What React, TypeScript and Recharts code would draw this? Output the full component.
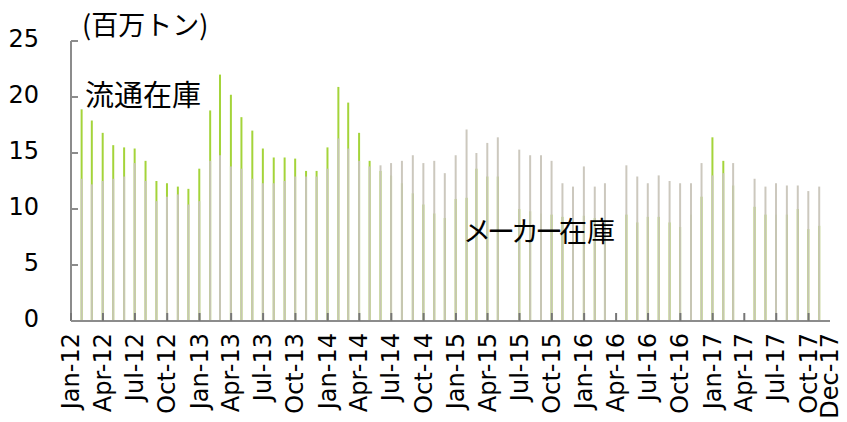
import React from "react";
import { BarChart, Bar, XAxis, YAxis } from "recharts";

// 月末在庫（百万トン）2012年1月〜2017年12月
const YEARS = [2012, 2013, 2014, 2015, 2016, 2017];
const MONTHS = ["Jan", "Feb", "Mar", "Apr", "May", "Jun", "Jul", "Aug", "Sep", "Oct", "Nov", "Dec"];

// 流通在庫
const RYUTSU: (number | null)[] = [
  18.9, 17.9, 16.8, 15.7, 15.5, 15.4, 14.3, 12.5, 12.3, 12.0, 11.8, 13.6,
  18.8, 22.0, 20.2, 18.2, 17.0, 15.4, 14.6, 14.6, 14.5, 13.4, 13.4, 15.5,
  20.9, 19.5, 16.8, 14.3, 13.4, 13.0, 12.3, 11.4, 10.4, 9.6, 9.2, 10.9,
  11.0, 13.6, 12.9, 12.9, null, 10.0, 9.8, 9.6, 9.5, 9.3, 9.0, 9.4,
  9.2, 9.0, null, 9.5, 8.8, 9.3, 9.3, 8.8, 8.4, 9.5, 11.1, 16.4,
  14.3, 12.1, null, 10.2, 9.5, 9.5, 9.5, 10.0, 8.2, 8.5, null, null,
];

// メーカー在庫
const MAKER: (number | null)[] = [
  12.7, 12.2, 12.5, 12.7, 12.9, 14.1, 12.5, 10.7, 11.1, 11.3, 10.4, 10.7,
  14.3, 14.8, 13.8, 13.6, 12.7, 12.3, 12.3, 12.5, 12.9, 12.9, 12.9, 13.6,
  16.3, 15.4, 14.3, 13.8, 13.9, 14.1, 14.3, 14.8, 14.1, 14.3, 13.2, 14.8,
  17.1, 15.0, 15.9, 16.4, null, 15.3, 14.8, 14.8, 14.3, 12.3, 12.0, 13.8,
  12.0, 12.3, null, 13.9, 12.9, 12.3, 13.0, 12.5, 12.3, 12.3, 14.1, 13.0,
  13.2, 14.1, null, 12.7, 12.0, 12.3, 12.1, 12.1, 11.6, 12.0, null, null,
];

const X_TICKS = [
  "Jan-12", "Apr-12", "Jul-12", "Oct-12",
  "Jan-13", "Apr-13", "Jul-13", "Oct-13",
  "Jan-14", "Apr-14", "Jul-14", "Oct-14",
  "Jan-15", "Apr-15", "Jul-15", "Oct-15",
  "Jan-16", "Apr-16", "Jul-16", "Oct-16",
  "Jan-17", "Apr-17", "Jul-17", "Oct-17", "Dec-17",
];
const Y_TICKS = [0, 5, 10, 15, 20, 25];

const GREEN = "#a4d43a";
const GRAY = "#c9c5ba";
const AXIS = "#8c8c8c";
const LATIN = "'DejaVu Sans', Verdana, sans-serif";
const CJK = "'Noto Sans CJK JP', sans-serif";

// date axis in days from 2012-01-01
const ORIGIN = Date.UTC(2012, 0, 1);
const toDay = (y: number, m: number, d: number) => (Date.UTC(y, m, d) - ORIGIN) / 86400000;
const labelToDay = (s: string) => {
  const [mon, yy] = s.split("-");
  return toDay(2000 + Number(yy), MONTHS.indexOf(mon), 1);
};

const tickDays = X_TICKS.map(labelToDay);
const dayToLabel: Record<number, string> = {};
X_TICKS.forEach((s, i) => (dayToLabel[tickDays[i]] = s));

// each value sits on the last day of its month
const data = RYUTSU.map((v, i) => ({
  date: toDay(YEARS[Math.floor(i / 12)], (i % 12) + 1, 0),
  ryutsu: v,
  maker: MAKER[i],
})).filter((d) => d.ryutsu != null || d.maker != null);

const XTick = (props: any) => {
  const { x, y, payload, index } = props;
  const last = index === X_TICKS.length - 1;
  return (
    <g>
      {!last && <line x1={x} x2={x} y1={y - 8} y2={y} stroke="#767676" strokeWidth={2} />}
      <text
        x={x}
        y={y}
        dx={-12}
        transform={`rotate(-90 ${x} ${y})`}
        textAnchor="end"
        dominantBaseline="central"
        fontSize={24}
        fontFamily={LATIN}
        fill="#000"
      >
        {dayToLabel[payload.value]}
      </text>
    </g>
  );
};

const YTick = (props: any) => {
  const { x, y, payload } = props;
  return (
    <g>
      <line x1={x} x2={x + 7} y1={y} y2={y} stroke={AXIS} strokeWidth={2} />
      <text
        x={x - 32}
        y={y}
        dy={-2}
        textAnchor="end"
        dominantBaseline="central"
        fontSize={24}
        fontFamily={LATIN}
        fill="#000"
      >
        {payload.value}
      </text>
    </g>
  );
};

const note = (left: number, top: number, size: number): React.CSSProperties => ({
  position: "absolute",
  left,
  top,
  fontSize: size,
  lineHeight: `${size}px`,
  fontFamily: CJK,
  color: "#000",
  whiteSpace: "nowrap",
});

const App: React.FC = () => (
  <div style={{ position: "absolute", left: 0, top: 0, width: 847, height: 422, background: "#fff" }}>
    <BarChart
      width={847}
      height={422}
      data={data}
      margin={{ top: 41, right: 17, bottom: 6, left: 21 }}
      barGap={-2}
      barSize={2}
    >
      <XAxis
        dataKey="date"
        type="number"
        domain={[0, tickDays[tickDays.length - 1]]}
        allowDataOverflow
        ticks={tickDays}
        interval={0}
        height={95}
        tickLine={false}
        tickSize={0}
        tickMargin={0}
        axisLine={{ stroke: AXIS, strokeWidth: 2 }}
        tick={<XTick />}
      />
      <YAxis
        domain={[0, 25]}
        ticks={Y_TICKS}
        interval={0}
        width={50}
        tickLine={false}
        tickSize={0}
        tickMargin={0}
        axisLine={{ stroke: AXIS, strokeWidth: 2 }}
        tick={<YTick />}
      />
      <Bar dataKey="ryutsu" fill={GREEN} isAnimationActive={false} />
      <Bar dataKey="maker" fill={GRAY} fillOpacity={0.95} isAnimationActive={false} />
    </BarChart>
    <div style={note(82, 10, 27)}>(百万トン)</div>
    <div style={note(85, 79, 29)}>流通在庫</div>
    <div style={note(463, 216, 28)}>
      <span style={{ letterSpacing: -4 }}>メーカー</span>在庫
    </div>
  </div>
);

export default App;
